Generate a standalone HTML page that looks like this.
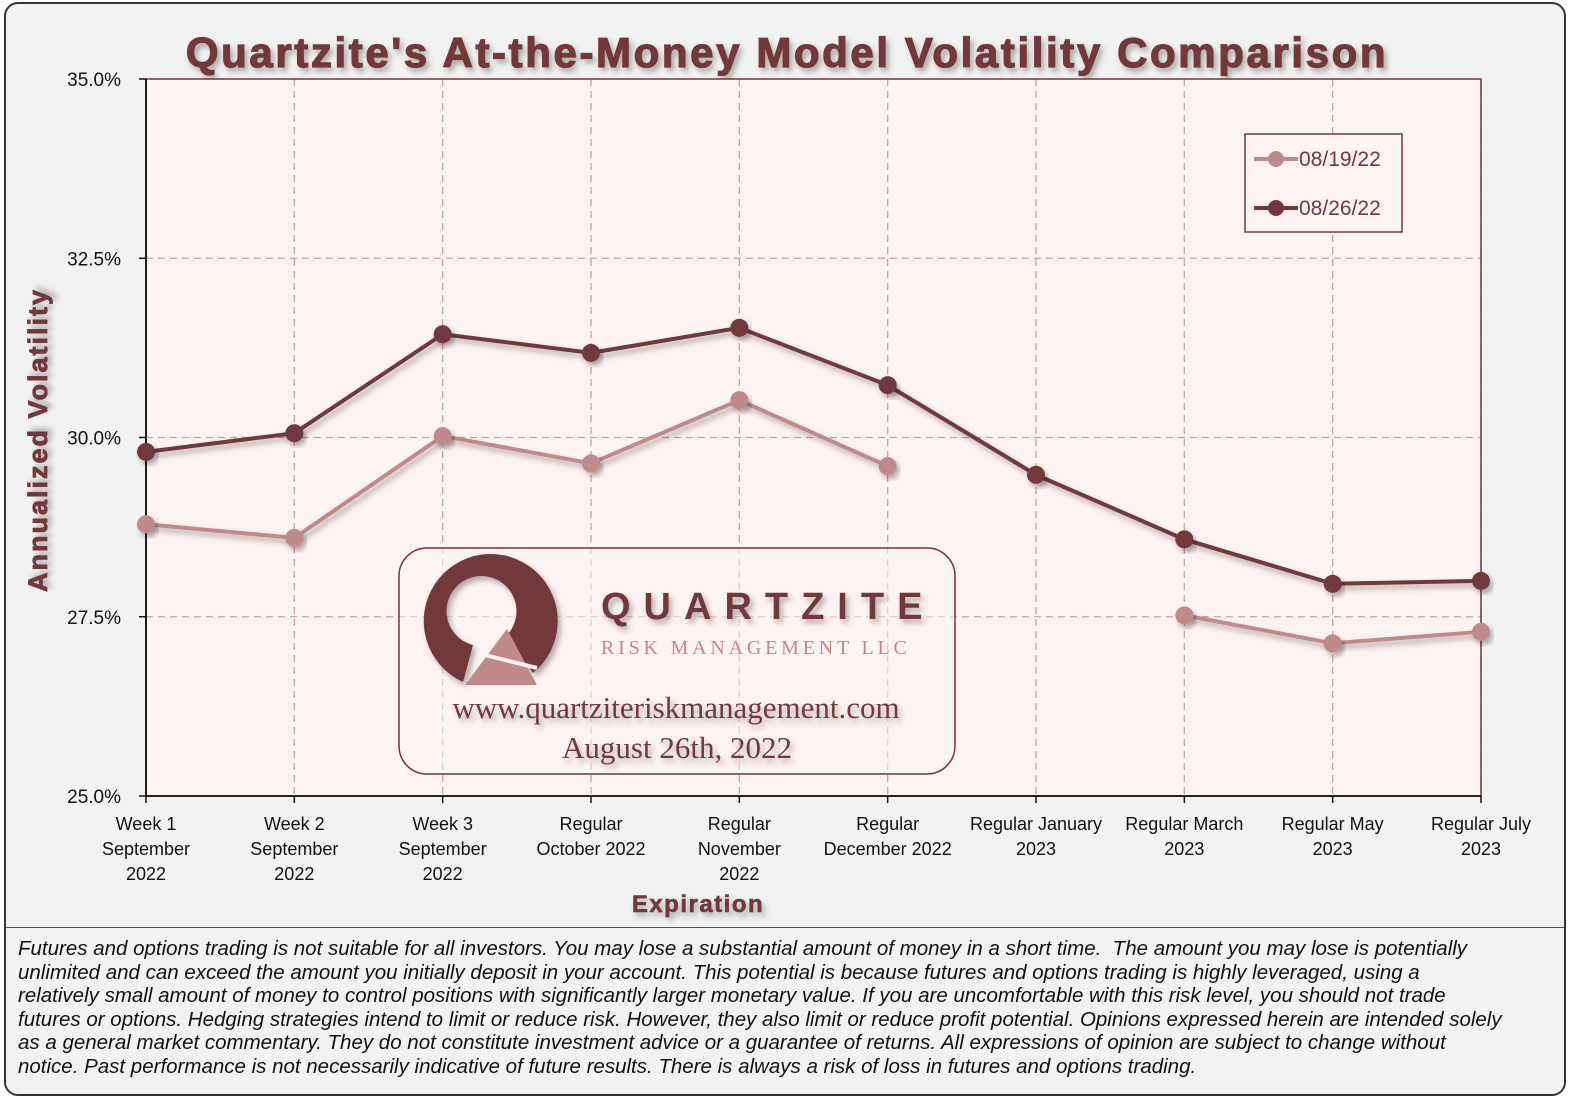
<!DOCTYPE html>
<html><head><meta charset="utf-8"><style>
body{margin:0;width:1580px;height:1101px;background:#fff;font-family:"Liberation Sans",sans-serif;overflow:hidden}
#frame{position:absolute;left:4px;top:2px;width:1558px;height:1090px;border:2px solid #333;border-radius:14px;background:#f2f2f2;overflow:hidden}
#disc{position:absolute;left:0;top:923px;width:1558px;height:167px;border-top:1.5px solid #555;background:#f2f2f2;font-style:italic;font-size:20.5px;line-height:23.6px;color:#111;padding:9px 62px 8px 12px;box-sizing:border-box;white-space:normal}
svg{position:absolute;left:0;top:0}
</style></head><body>
<div id="frame">
<svg id="chart" width="1558" height="923">
<defs><filter id="sh" x="-10%" y="-10%" width="130%" height="140%"><feDropShadow dx="3" dy="4" stdDeviation="3" flood-color="#000" flood-opacity="0.3"/></filter></defs>
<text x="781" y="63" text-anchor="middle" font-family="Liberation Sans" font-weight="bold" font-size="42" letter-spacing="2.6" stroke="#73373a" stroke-width="1.2" fill="#73373a" filter="url(#sh)">Quartzite's At-the-Money Model Volatility Comparison</text>
<g id="plot"></g>
<text transform="translate(41,436) rotate(-90)" text-anchor="middle" font-weight="bold" font-size="27" letter-spacing="2" stroke="#73373a" stroke-width="0.8" fill="#73373a" filter="url(#sh)">Annualized Volatility</text>
<text x="692" y="908" text-anchor="middle" font-weight="bold" font-size="24" letter-spacing="1.5" stroke="#73373a" stroke-width="0.6" fill="#73373a" filter="url(#sh)">Expiration</text>
</svg>
<div id="disc">Futures and options trading is not suitable for all investors. You may lose a substantial amount of money in a short time.&nbsp; The amount you may lose is potentially unlimited and can exceed the amount you initially deposit in your account. This potential is because futures and options trading is highly leveraged, using a relatively small amount of money to control positions with significantly larger monetary value. If you are uncomfortable with this risk level, you should not trade futures or options. Hedging strategies intend to limit or reduce risk. However, they also limit or reduce profit potential. Opinions expressed herein are intended solely as a general market commentary. They do not constitute investment advice or a guarantee of returns. All expressions of opinion are subject to change without notice. Past performance is not necessarily indicative of future results. There is always a risk of loss in futures and options trading.</div>
</div>
<script>
const categories=[["Week 1","September","2022"],["Week 2","September","2022"],["Week 3","September","2022"],["Regular","October 2022"],["Regular","November","2022"],["Regular","December 2022"],["Regular January","2023"],["Regular March","2023"],["Regular May","2023"],["Regular July","2023"]];
const s0819=[28.79,28.60,30.02,29.64,30.52,29.60,null,27.52,27.13,27.29];
const s0826=[29.80,30.06,31.44,31.18,31.53,30.73,29.48,28.58,27.96,28.00];
const yTicks=[25,27.5,30,32.5,35];
const L=140,R=1475,T=75,B=792,ymin=25,ymax=35;
const xs=i=>L+i*(R-L)/(categories.length-1);
const ys=v=>B-(v-ymin)/(ymax-ymin)*(B-T);
const NS="http://www.w3.org/2000/svg";
const g=document.getElementById('plot');
function mk(t,a,p){const e=document.createElementNS(NS,t);for(const k in a)e.setAttribute(k,a[k]);(p||g).appendChild(e);return e;}
mk('rect',{x:L,y:T,width:R-L,height:B-T,fill:'#fdf3f2'});
yTicks.forEach(v=>{
 if(v>ymin&&v<ymax){const l=mk('line',{x1:L,x2:R,y1:ys(v),y2:ys(v),stroke:'#c9a0a0','stroke-width':1.3,'stroke-dasharray':'7,5'});}
 const t=mk('text',{x:L-25,y:ys(v)+7,'text-anchor':'end','font-size':19,fill:'#111'});t.textContent=v.toFixed(1)+'%';
 
});
categories.forEach((c,i)=>{
 if(i>0){const l=mk('line',{x1:xs(i),x2:xs(i),y1:T,y2:B,stroke:'#c9a0a0','stroke-width':1.3,'stroke-dasharray':'7,5'});}
 mk('line',{x1:xs(i),x2:xs(i),y1:B,y2:B+7,stroke:'#111','stroke-width':1.5});
 c.forEach((s,j)=>{const t=mk('text',{x:xs(i),y:826+j*25,'text-anchor':'middle','font-size':18,fill:'#111'});t.textContent=s;
 });
});
mk('rect',{x:L,y:T,width:R-L,height:B-T,fill:'none',stroke:'#73373a','stroke-width':1.5});
mk('line',{x1:L,x2:R,y1:B,y2:B,stroke:'#111','stroke-width':1.8});
mk('line',{x1:L,x2:L,y1:T,y2:B,stroke:'#111','stroke-width':1.8});
for(const v of yTicks) mk('line',{x1:L-7,x2:L,y1:ys(v),y2:ys(v),stroke:'#111','stroke-width':1.5});
const wm=mk('g',{});
mk('rect',{x:393,y:544,width:556,height:226,rx:28,fill:'rgba(253,243,242,0.55)',stroke:'#73373a','stroke-width':1.5},wm);
mk('path',{d:'M457,678 A67,67 0 1 1 527,669 L499,633 A35,35 0 1 0 467,641 Z',fill:'#73373a',filter:'url(#sh)'},wm);
mk('path',{d:'M459,681 L501,625 L531,681 Z',fill:'#c08a88'},wm);
mk('line',{x1:471,x2:531,y1:649,y2:664,stroke:'#fdf3f2','stroke-width':4},wm);
let t=mk('text',{x:595,y:615,'font-size':38,'font-weight':'bold','letter-spacing':13,fill:'#73373a',filter:'url(#sh)'},wm);t.textContent='QUARTZITE';
t=mk('text',{x:595,y:650,'font-family':'Liberation Serif','font-size':20,'letter-spacing':3.8,fill:'#c08a88'},wm);t.textContent='RISK MANAGEMENT LLC';
t=mk('text',{x:670,y:714,'text-anchor':'middle','font-family':'Liberation Serif','font-size':31,fill:'#73373a',filter:'url(#sh)'},wm);t.textContent='www.quartziteriskmanagement.com';
t=mk('text',{x:671,y:754,'text-anchor':'middle','font-family':'Liberation Serif','font-size':31,fill:'#73373a',filter:'url(#sh)'},wm);t.textContent='August 26th, 2022';
function drawSeries(vals,col,name){
 let segs=[],cur=[];
 vals.forEach((v,i)=>{if(v==null){if(cur.length)segs.push(cur);cur=[];}else cur.push([xs(i),ys(v)]);});
 if(cur.length)segs.push(cur);
 segs.forEach(s=>{const p=mk('polyline',{points:s.map(q=>q.join(',')).join(' '),fill:'none',stroke:col,'stroke-width':4,filter:'url(#sh)'});
 });
 vals.forEach((v,i)=>{if(v==null)return;const c=mk('circle',{cx:xs(i),cy:ys(v),r:9,fill:col,filter:'url(#sh)'});
 });
}
drawSeries(s0819,'#c08a88','series-08-19-22');
drawSeries(s0826,'#73373a','series-08-26-22');
const lg=mk('g',{});
mk('rect',{x:1239,y:130,width:157,height:98,fill:'#fdf3f2',stroke:'#73373a','stroke-width':1.5},lg);
[['08/19/22','#c08a88',155],['08/26/22','#73373a',204]].forEach(([n,c,y])=>{
 const e=mk('g',{},lg);
 mk('line',{x1:1248,x2:1292,y1:y,y2:y,stroke:c,'stroke-width':4},e);
 mk('circle',{cx:1270,cy:y,r:8,fill:c},e);
 const tt=mk('text',{x:1293,y:y+7,'font-size':21,fill:'#73373a'},e);tt.textContent=n;
});
</script>
</body></html>
